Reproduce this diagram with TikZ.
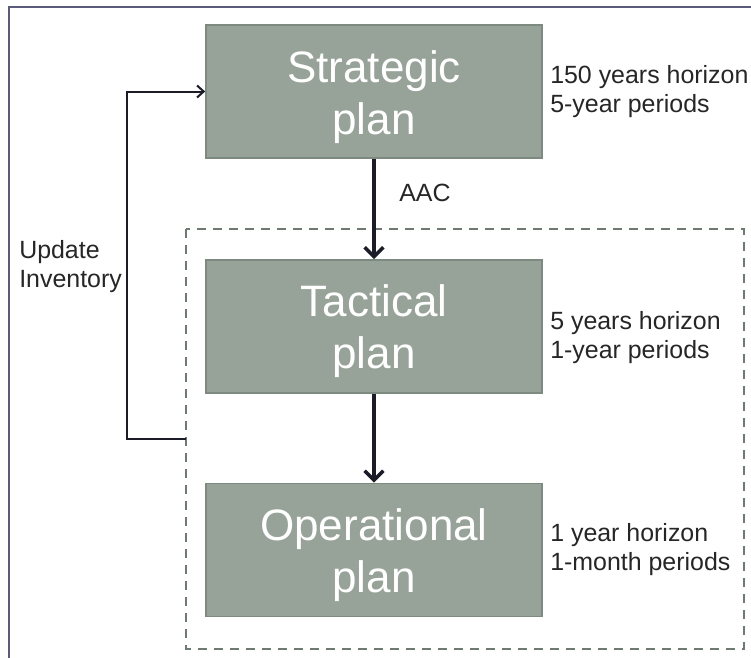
\documentclass[tikz,border=0pt]{standalone}
\usepackage{fontspec}
\setmainfont{Liberation Sans}
\usetikzlibrary{arrows.meta}
\definecolor{boxfill}{HTML}{97A398}
\definecolor{boxline}{HTML}{7D8A80}
\definecolor{dashcol}{HTML}{6E7B70}
\definecolor{framecol}{HTML}{5B5B7B}
\definecolor{arrowcol}{HTML}{1C1C28}
\tikzset{
  planbox/.style={draw=boxline, line width=1.2pt, fill=boxfill, minimum width=252pt, minimum height=100pt, inner sep=0pt},
  plantext/.style={text=white, font=\fontsize{33}{39}\selectfont, align=center, inner sep=0pt},
  sidetext/.style={text=black!85, font=\fontsize{18.7}{21.75}\selectfont, align=left, anchor=west, inner sep=0pt},
  flowarrow/.style={draw=arrowcol, line width=2.6pt, -{Straight Barb[length=7pt,width=14pt]}},
  fbarrow/.style={draw=arrowcol, line width=1.5pt, -{Straight Barb[length=5pt,width=9pt]}},
  dashbox/.style={draw=dashcol, line width=1.5pt, dash pattern=on 7pt off 5pt},
  frameline/.style={draw=framecol, line width=1.8pt}
}
\begin{document}
\begin{tikzpicture}[x=0.75pt, y=-0.75pt]
\useasboundingbox (0,0) rectangle (751,658);
% frame
\coordinate (frtr) at (751,7);
\coordinate (frtl) at (9,7);
\coordinate (frbl) at (9,658);
\draw[frameline] (frtr) -- (frtl) -- (frbl);
% dashed group
\coordinate (dbtl) at (186,229);
\coordinate (dbbr) at (744,649);
\draw[dashbox] (dbtl) rectangle (dbbr);
% boxes
\node[planbox] (s) at (374,91.5) {};
\node[plantext] (st) at (374,97) {Strategic\\plan};
\node[planbox] (t) at (374,326.5) {};
\node[plantext] (tt) at (374,331) {Tactical\\plan};
\node[planbox] (o) at (374,550) {};
\node[plantext] (ot) at (374,555) {Operational\\plan};
% side texts
\node[sidetext] (sl) at (550,91.5) {150 years horizon\\5-year periods};
\node[sidetext] (tl) at (550,337.5) {5 years horizon\\1-year periods};
\node[sidetext] (ol) at (550,550) {1 year horizon\\1-month periods};
% arrows
\draw[flowarrow] (s.south) -- (t.north);
\draw[flowarrow] (t.south) -- (o.north);
\node[text=black!85, font=\fontsize{18.7}{21.75}\selectfont, inner sep=0pt] (aac) at (425,193) {AAC};
% feedback
\coordinate (fbstart) at (186,439);
\coordinate (fbcorner) at (127,439);
\draw[fbarrow] (fbstart) -- (fbcorner) |- (s.west);
\node[sidetext] (ui) at (19,267) {Update\\Inventory};
\end{tikzpicture}
\end{document}
